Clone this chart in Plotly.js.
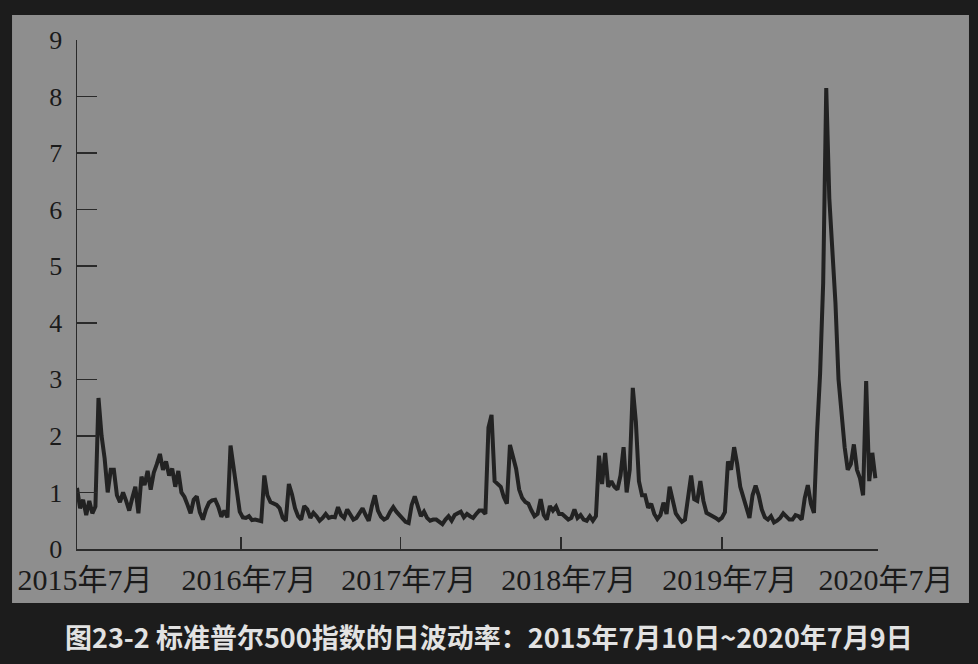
<!DOCTYPE html>
<html>
<head>
<meta charset="utf-8">
<script src="https://cdn.plot.ly/plotly-3.0.1.min.js"></script>
<style>
html,body{margin:0;padding:0;background:#1c1c1c;}
#chart{width:978px;height:664px;}
</style>
</head>
<body>
<div id="chart"></div>
<script>
// Weekly samples of S&P 500 daily volatility (%), starting 2015-07-10
const startDate = '2015-07-10';
const stepDays = 7;
const vol = [
1.08,0.72,0.87,0.6,0.85,0.63,0.75,2.67,2.0,1.6,
1.0,1.4,1.4,0.95,0.83,1.0,0.85,0.68,0.9,1.1,
0.63,1.28,1.13,1.38,1.05,1.35,1.5,1.68,1.4,1.55,
1.3,1.42,1.1,1.38,1.0,0.92,0.78,0.63,0.87,0.93,
0.65,0.52,0.7,0.82,0.86,0.87,0.75,0.57,0.68,0.56,
1.83,1.45,1.0,0.66,0.56,0.55,0.58,0.51,0.52,0.5,
0.49,1.3,0.95,0.83,0.8,0.78,0.72,0.55,0.5,1.15,
0.97,0.72,0.58,0.52,0.76,0.7,0.55,0.64,0.58,0.5,
0.55,0.62,0.55,0.57,0.56,0.74,0.6,0.55,0.7,0.62,
0.52,0.55,0.63,0.72,0.6,0.5,0.75,0.95,0.68,0.57,
0.52,0.55,0.66,0.74,0.66,0.6,0.52,0.48,0.46,0.78,
0.93,0.72,0.58,0.66,0.55,0.5,0.52,0.52,0.47,0.44,
0.52,0.58,0.5,0.6,0.63,0.66,0.56,0.62,0.58,0.55,
0.62,0.68,0.68,0.62,2.15,2.37,1.2,1.15,1.1,0.92,
0.8,1.84,1.62,1.42,1.05,0.9,0.83,0.8,0.68,0.58,
0.62,0.88,0.6,0.52,0.76,0.68,0.75,0.62,0.62,0.58,
0.52,0.55,0.7,0.55,0.6,0.52,0.5,0.58,0.5,0.58,
1.65,1.15,1.7,1.1,1.2,1.1,1.05,1.3,1.8,1.0,
1.4,2.85,2.25,1.2,0.95,0.95,0.73,0.8,0.62,0.53,
0.6,0.82,0.62,1.1,0.85,0.63,0.55,0.48,0.52,0.95,
1.3,0.88,0.85,1.2,0.85,0.64,0.6,0.58,0.55,0.51,
0.55,0.65,1.55,1.4,1.8,1.5,1.1,0.9,0.7,0.55,
0.95,1.12,0.95,0.7,0.56,0.52,0.58,0.47,0.5,0.55,
0.63,0.58,0.52,0.52,0.6,0.58,0.52,0.9,1.13,0.8,
0.64,2.05,3.1,4.7,8.15,6.2,5.2,4.35,3.0,2.3,
1.8,1.4,1.5,1.85,1.4,1.25,0.95,2.97,1.2,1.7,
1.25
];
const xRange = ['2015-07-10','2020-07-09'];
const xTickVals = ['2015-07-10','2016-07-18','2017-07-17','2018-07-17','2019-07-19','2020-07-09'];
const xTickText = ['2015年7月','2016年7月','2017年7月','2018年7月','2019年7月','2020年7月'];
const yTickVals = [0,1,2,3,4,5,6,7,8,9];
const captionText = '图23-2 标准普尔500指数的日波动率：2015年7月10日~2020年7月9日';

function fmt(d){
  const y=d.getUTCFullYear(), m=String(d.getUTCMonth()+1).padStart(2,'0'), dd=String(d.getUTCDate()).padStart(2,'0');
  return y+'-'+m+'-'+dd;
}
const t0 = new Date(startDate+'T00:00:00Z');
const dates = vol.map((v,i)=>fmt(new Date(t0.getTime()+i*stepDays*86400000)));

const trace = {
  x: dates, y: vol, type:'scatter', mode:'lines',
  line:{color:'#222222', width:4}, hoverinfo:'skip'
};

const serif = '"Liberation Serif","Times New Roman","Noto Sans CJK SC",serif';
const layout = {
  width:978, height:664,
  margin:{l:77, r:100, t:40, b:115},
  paper_bgcolor:'#1c1c1c',
  plot_bgcolor:'rgba(0,0,0,0)',
  showlegend:false,
  xaxis:{
    type:'date', range:xRange, showgrid:false, zeroline:false,
    showline:true, linecolor:'#2a2a2a', linewidth:1.5,
    ticks:'inside', ticklen:12, tickwidth:1.5, tickcolor:'#2a2a2a',
    tickmode:'array', tickvals:xTickVals, ticktext:xTickText,
    tickfont:{family:serif, size:30, color:'#1a1a1a'},
    ticklabelshift:8, ticklabelstandoff:3
  },
  yaxis:{
    range:[0,9], showgrid:false, zeroline:false,
    showline:true, linecolor:'#2a2a2a', linewidth:1.5,
    ticks:'inside', ticklen:20, tickwidth:1.5, tickcolor:'#2a2a2a',
    tickmode:'array', tickvals:yTickVals,
    tickfont:{family:serif, size:26, color:'#1a1a1a'},
    ticklabelstandoff:8
  },
  shapes:[{
    type:'rect', xref:'paper', yref:'paper', layer:'below',
    x0:-0.0811, x1:1.1136, y0:-0.1061, y1:1.0491,
    fillcolor:'#8e8e8e', line:{width:0}
  }],
  annotations:[{
    xref:'paper', yref:'paper', x:0.514, y:-0.171,
    xanchor:'center', yanchor:'middle', showarrow:false,
    text:'<b>'+captionText+'</b>',
    font:{family:'"Noto Sans CJK SC","Noto Sans",sans-serif', size:27, color:'#e2e2e2'}
  }]
};
Plotly.newPlot('chart',[trace],layout,{displayModeBar:false, staticPlot:true});
</script>
</body>
</html>
